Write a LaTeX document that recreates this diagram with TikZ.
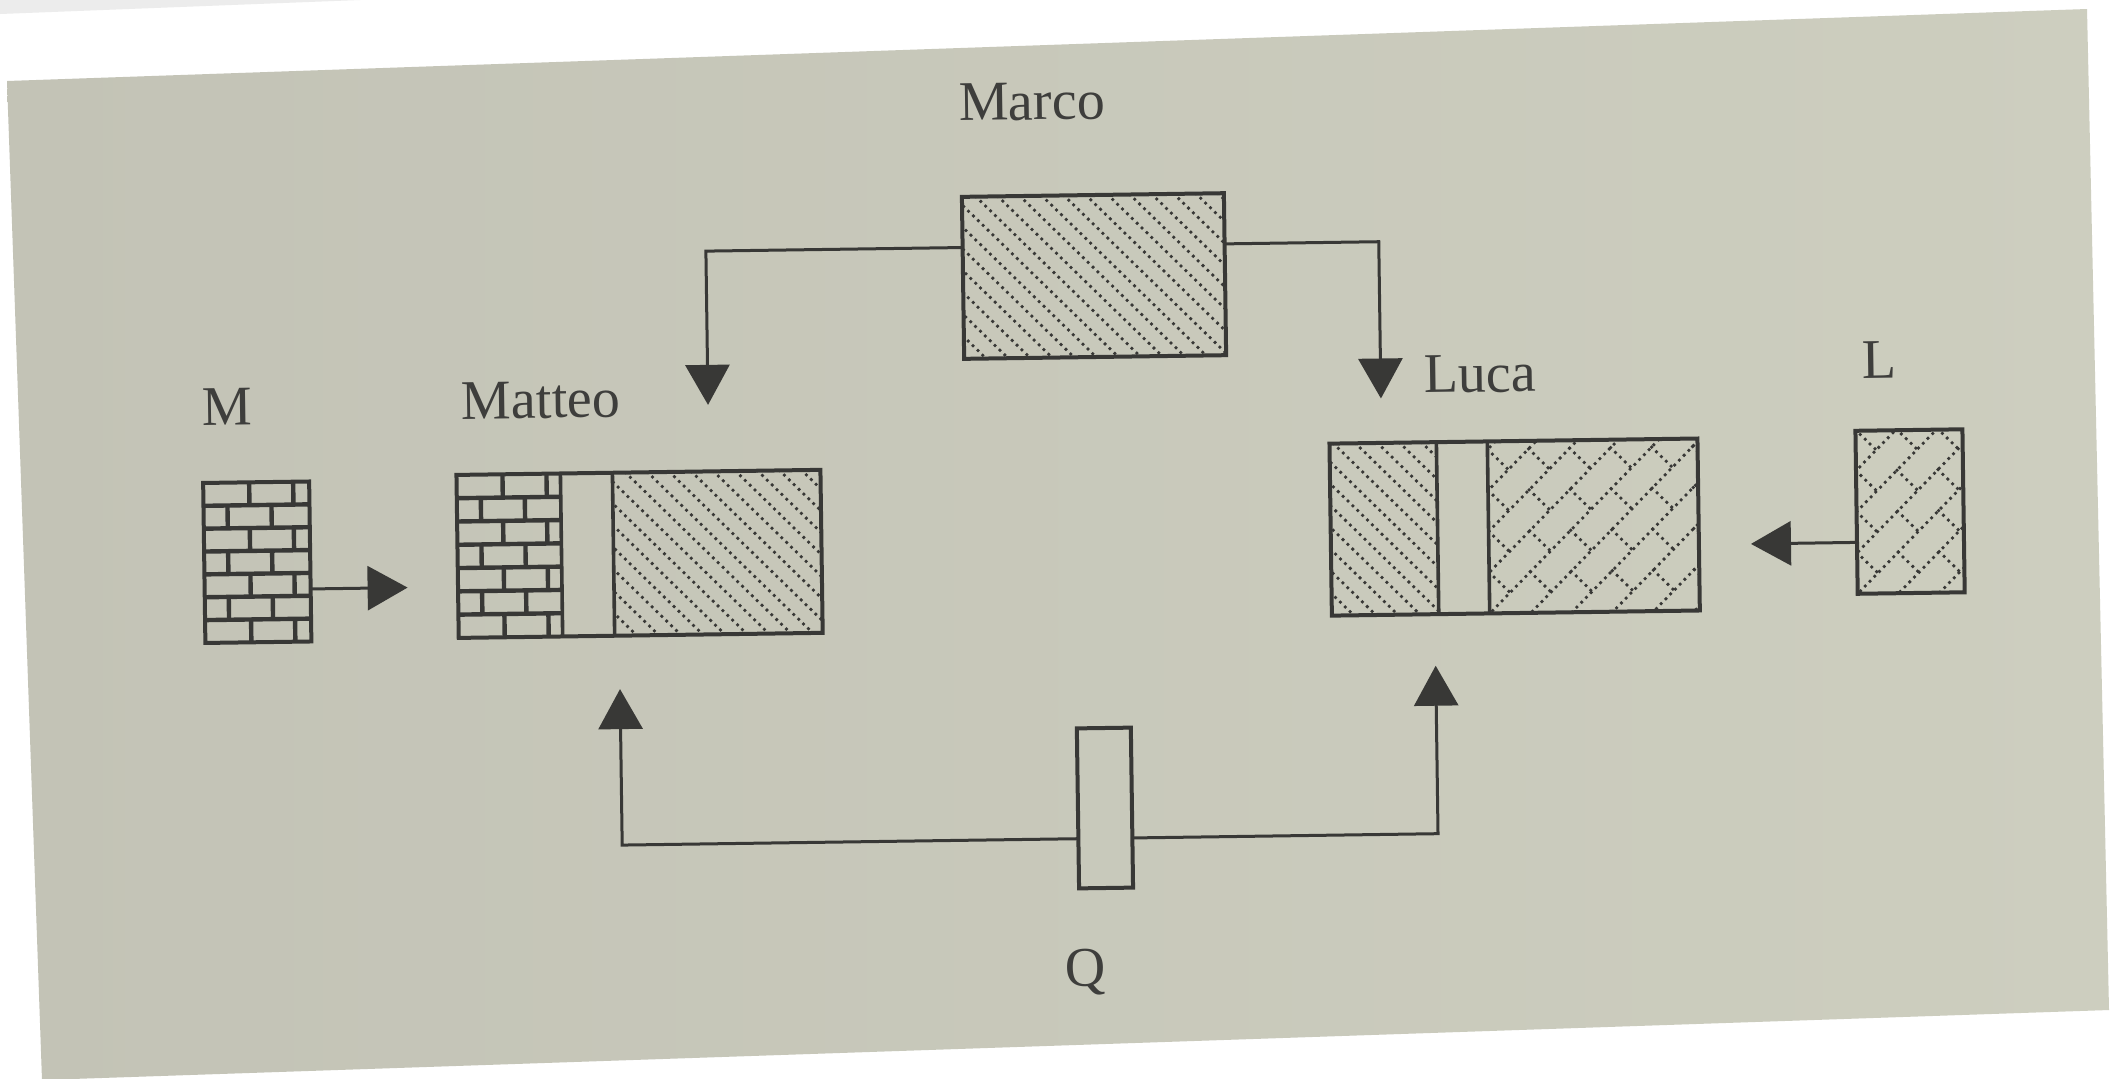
\documentclass[tikz,border=0pt]{standalone}
\usepackage{fontspec}
\setmainfont{Liberation Serif}
\usetikzlibrary{arrows.meta,calc}
\definecolor{pageL}{RGB}{195,195,182}
\definecolor{pageR}{RGB}{205,206,191}
\definecolor{ink}{RGB}{56,56,54}
\definecolor{txt}{RGB}{62,62,60}
\definecolor{band}{RGB}{236,236,236}

\newcommand\diagpat[4]{%
  \begin{scope}
    \clip (#1,#2) rectangle (#3,#4);
    \pgfmathsetmacro\hh{#4-#2}%
    \pgfmathtruncatemacro\nn{(#3-#1+\hh)/22+2}%
    \foreach \i in {0,...,\nn}{%
      \draw[dotline] ({#1-\hh+\i*22},#2) -- ++(\hh,\hh);
    }
  \end{scope}}

\newcommand\brickpat[4]{%
  \begin{scope}
    \clip (#1,#2) rectangle (#3,#4);
    \pgfmathsetmacro\rh{(#4-#2)/7}%
    \foreach \r in {1,...,6}{\draw[mortar] (#1,{#2+\r*\rh}) -- (#3,{#2+\r*\rh});}
    \foreach \r in {0,...,6}{%
      \pgfmathsetmacro\off{ifthenelse(mod(\r,2)==0,46,24)}%
      \foreach \k in {0,1,2}{\draw[mortar] ({#1+\off+\k*44},{#2+\r*\rh}) -- ++(0,\rh);}
    }
  \end{scope}}

\newcommand\rbrickpat[4]{%
  \begin{scope}
    \clip (#1,#2) rectangle (#3,#4);
    \begin{scope}[shift={(#1,#4)}, rotate=45]
      \foreach \r in {-7,...,7}{%
        \draw[dotline] (-30,{\r*29}) -- (340,{\r*29});
        \pgfmathsetmacro\off{ifthenelse(mod(\r,2)==0,0,29)}%
        \foreach \k in {-1,...,6}{\draw[dotline] ({\off+\k*58},{\r*29}) -- ++(0,29);}
      }
    \end{scope}
  \end{scope}}

\begin{document}
\begin{tikzpicture}[x=0.5pt,y=-0.5pt,
  dotline/.style={ink, line width=1.9pt, line cap=round, dash pattern=on 0pt off 3.4pt},
  mortar/.style={ink, line width=2.2pt},
  box/.style={draw=ink, line width=2pt, inner sep=0pt, outer sep=0pt},
  divider/.style={ink, line width=1.8pt},
  conn/.style={draw=ink, line width=1.5pt, -{Triangle[length=20pt,width=22pt]}},
  lbl/.style={text=txt, font=\fontsize{28}{30}\selectfont, inner sep=0pt, anchor=base}]
\useasboundingbox (0,0) rectangle (2119,1078);
\fill[white] (0,0) rectangle (2119,1078);
\fill[band] (0,0) -- (360,0) -- (0,14) -- cycle;
\shade[left color=pageL, right color=pageR] (7,81) -- (2087,9) -- (2109,1010) -- (42,1080) -- cycle;

\begin{scope}[rotate around={0.8:(1060,540)}, every node/.append style={transform shape}]
  % patterns
  \diagpat{966.7}{195.5}{1228.7}{357.5}
  \brickpat{457.4}{466.5}{561.5}{629.5}
  \diagpat{613.5}{466.5}{821.4}{629.5}
  \brickpat{204}{471}{310}{631}
  \diagpat{1330.8}{447.4}{1437.8}{619.4}
  \rbrickpat{1488.8}{447.4}{1698.8}{619.4}
  \rbrickpat{1856.9}{441.9}{1963.9}{604.9}

  % boxes
  \node[box, minimum width=131pt, minimum height=81pt] (marco) at (1097.7,276.5) {};
  \node[box, minimum width=182pt, minimum height=81.5pt] (matteo) at (639.4,548) {};
  \node[box, minimum width=184pt, minimum height=86pt] (luca) at (1514.8,533.4) {};
  \node[box, minimum width=53pt, minimum height=80pt] (mbox) at (257,551) {};
  \node[box, minimum width=53.5pt, minimum height=81.5pt] (lbox) at (1910.4,523.4) {};
  \node[box, minimum width=27pt, minimum height=80pt] (qbox) at (1101.2,808.6) {};

  % dividers
  \draw[divider] ($(matteo.north west)!0.2857!(matteo.north east)$) -- ($(matteo.south west)!0.2857!(matteo.south east)$);
  \draw[divider] ($(matteo.north west)!0.4286!(matteo.north east)$) -- ($(matteo.south west)!0.4286!(matteo.south east)$);
  \draw[divider] ($(luca.north west)!0.2908!(luca.north east)$) -- ($(luca.south west)!0.2908!(luca.south east)$);
  \draw[divider] ($(luca.north west)!0.4293!(luca.north east)$) -- ($(luca.south west)!0.4293!(luca.south east)$);

  % labels
  \node[lbl] (tmarco) at (1038,119.6) {Marco};
  \node[lbl] (tm) at (229,414) {M};
  \node[lbl] (tmatteo) at (543,410.7) {Matteo};
  \node[lbl] (tluca) at (1482,398) {Luca};
  \node[lbl] (tl) at (1882,389.5) {L};
  \node[lbl] (tq) at (1079,987) {Q};

  % connector points
  \coordinate (c1) at (710,246.2);
  \coordinate (t1) at (710,400);
  \coordinate (c2) at (1383,246.2);
  \coordinate (t2) at (1383,403);
  \coordinate (t3) at (407,578.5);
  \coordinate (t4) at (1751,553.6);
  \coordinate (c5) at (618,839);
  \coordinate (t5) at (618,683);
  \coordinate (c6) at (1434,839);
  \coordinate (t6) at (1434,671);

  % connectors
  \draw[conn] ($(marco.north west)!0.313!(marco.south west)$) -- (c1) -- (t1);
  \draw[conn] ($(marco.north east)!0.313!(marco.south east)$) -- (c2) -- (t2);
  \draw[conn] ($(mbox.north east)!0.672!(mbox.south east)$) -- (t3);
  \draw[conn] ($(lbox.north west)!0.685!(lbox.south west)$) -- (t4);
  \draw[conn] ($(qbox.north west)!0.69!(qbox.south west)$) -- (c5) -- (t5);
  \draw[conn] ($(qbox.north east)!0.69!(qbox.south east)$) -- (c6) -- (t6);
\end{scope}
\end{tikzpicture}
\end{document}
